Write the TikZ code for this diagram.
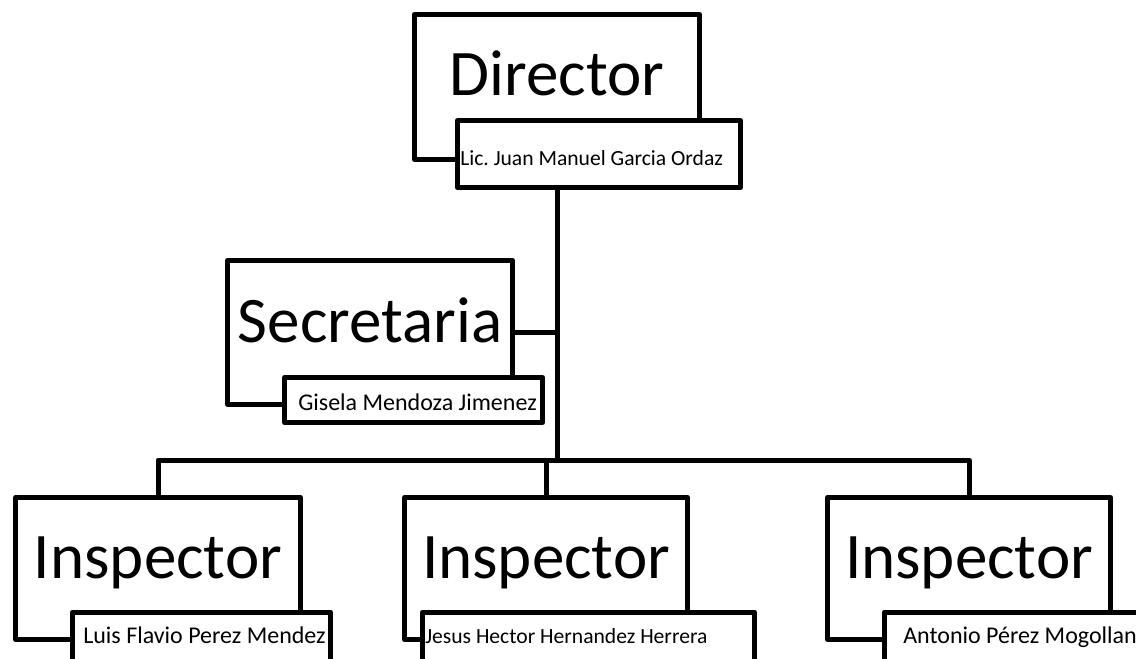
\documentclass[tikz,border=0pt]{standalone}
\usepackage{fontspec}
\setmainfont{Carlito}
\usetikzlibrary{backgrounds}
\begin{document}
\frenchspacing
\begin{tikzpicture}[x=0.75pt,y=-0.75pt,
  box/.style={draw,fill=white,line width=3.75pt,line join=round,rectangle,inner sep=0pt,anchor=center},
  bigtxt/.style={font=\fontsize{48.75}{50}\selectfont,inner sep=0pt,anchor=base},
  smalltxt/.style={font=\fontsize{18}{20}\selectfont,inner sep=0pt,anchor=base west},
  smallertxt/.style={smalltxt,font=\fontsize{16.2}{18}\selectfont},
  conn/.style={line width=3.75pt,line join=round}]
\useasboundingbox (0,0) rectangle (1136,658);
\clip (0,0) rectangle (1136,658);
% boxes
\node[box,minimum width=285*0.75pt,minimum height=145*0.75pt] (dir) at (557,87) {};
\node[box,minimum width=283*0.75pt,minimum height=67*0.75pt] (dirn) at (599,154) {};
\node[box,minimum width=285*0.75pt,minimum height=144*0.75pt] (sec) at (370,332.5) {};
\node[box,minimum width=258*0.75pt,minimum height=45*0.75pt] (secn) at (413.5,400) {};
\node[box,minimum width=285*0.75pt,minimum height=142*0.75pt] (insp1) at (158,568.5) {};
\node[box,minimum width=258*0.75pt,minimum height=60*0.75pt] (insp1n) at (201.5,642) {};
\node[box,minimum width=283*0.75pt,minimum height=142*0.75pt] (insp2) at (546,568.5) {};
\node[box,minimum width=332*0.75pt,minimum height=60*0.75pt] (insp2n) at (588.5,642) {};
\node[box,minimum width=283*0.75pt,minimum height=142*0.75pt] (insp3) at (969,568.5) {};
\node[box,minimum width=313*0.75pt,minimum height=60*0.75pt] (insp3n) at (1041,642) {};
% connectors (behind the boxes)
\coordinate (j) at (557,460);
\begin{scope}[on background layer]
\draw[conn] (dirn.south -| dir.center) -- (j);
\draw[conn] (sec.east) -- (sec.east -| j);
\draw[conn] (insp1.north) -- (insp1.north |- j) -- (insp3.north |- j) -- (insp3.north);
\draw[conn] (insp2.north) -- (insp2.north |- j);
\end{scope}
% texts
\node[bigtxt] (tdir) at (557,95) {Director};
\node[smallertxt] (tdirn) at (460,165) {Lic. Juan Manuel Garcia Ordaz};
\node[bigtxt] (tsec) at (370,342) {Secretaria};
\node[smalltxt] (tsecn) at (298,410) {Gisela Mendoza Jimenez};
\node[bigtxt] (ti1) at (158,578) {Inspector};
\node[smalltxt] (ti1n) at (83,643) {Luis Flavio Perez Mendez};
\node[bigtxt] (ti2) at (546,578) {Inspector};
\node[smallertxt] (ti2n) at (425,643) {Jesus Hector Hernandez Herrera};
\node[bigtxt] (ti3) at (969,578) {Inspector};
\node[smalltxt] (ti3n) at (903,643) {Antonio Pérez Mogollan};
\end{tikzpicture}
\end{document}
